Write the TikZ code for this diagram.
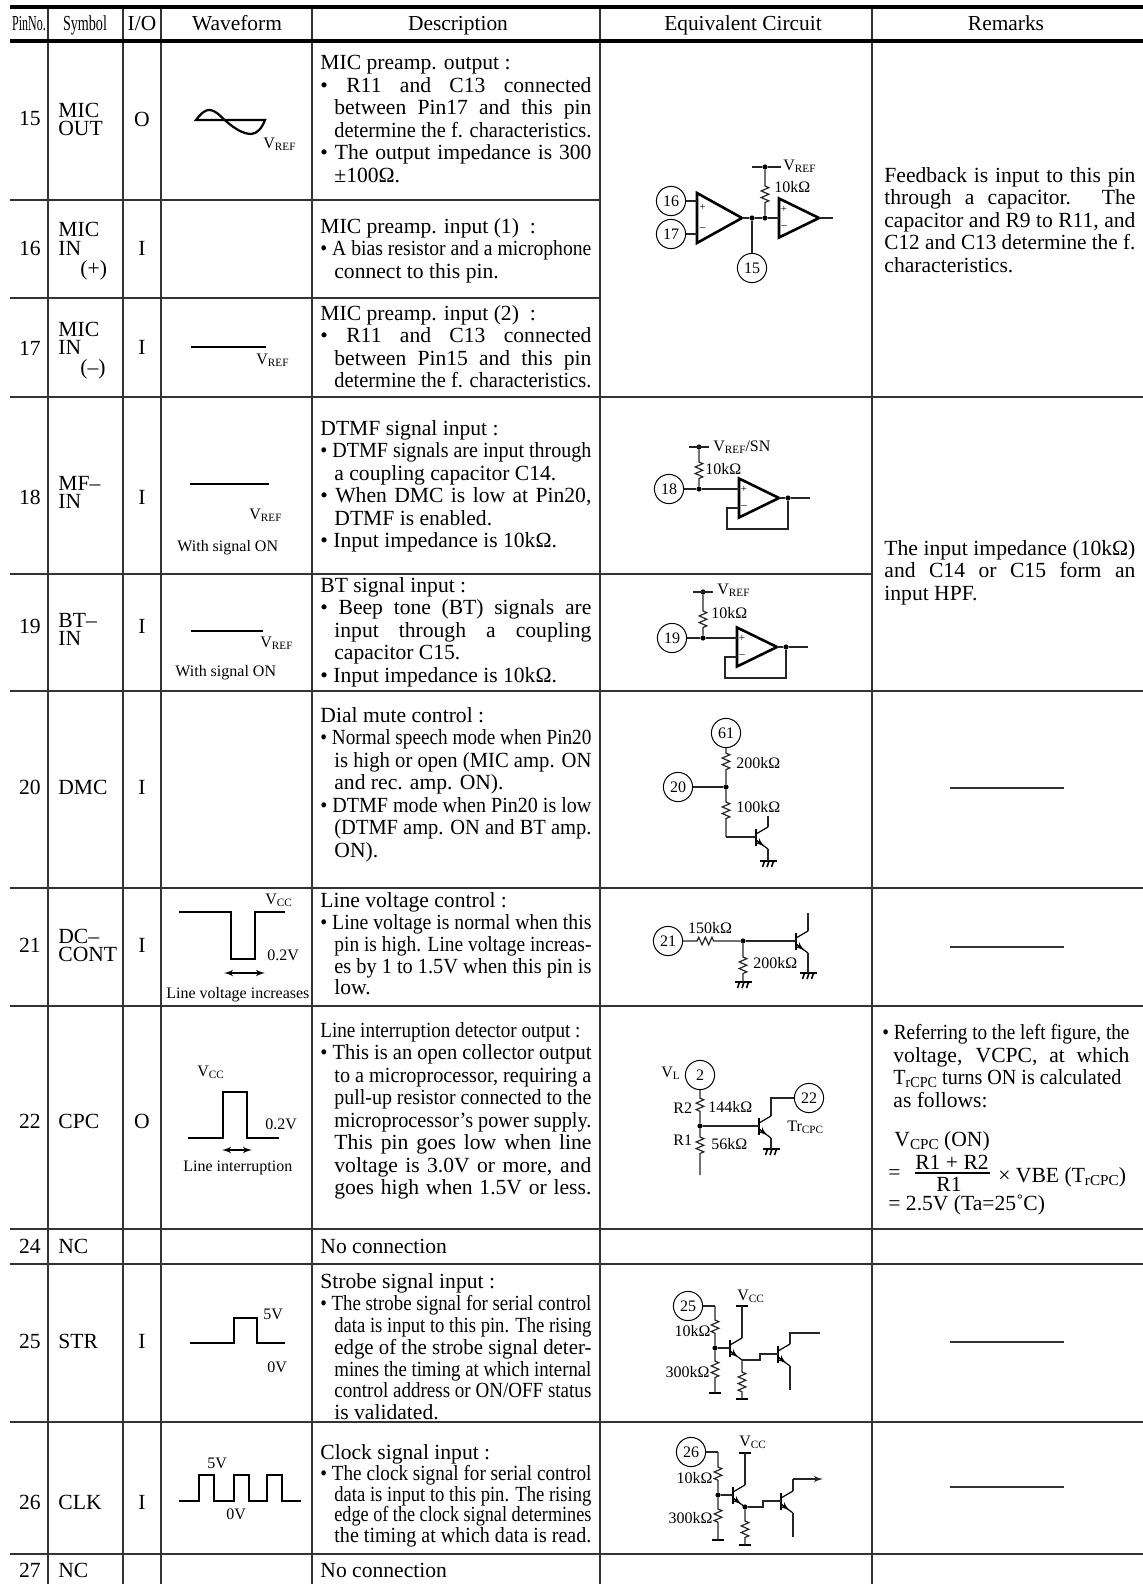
\documentclass[tikz,border=0pt]{standalone}
\usepackage{fontspec}
\setmainfont{Liberation Serif}
\usepackage{graphicx}
\usetikzlibrary{arrows}
\usetikzlibrary{decorations.pathmorphing}
\newcommand{\lowtext}[1]{\raisebox{-.25ex}{\fontsize{5.6}{6}\selectfont #1}}
\newcommand{\lowbig}[1]{\raisebox{-.25ex}{\fontsize{7.6}{8}\selectfont #1}}
\newcommand{\jl}[2]{\setbox0=\hbox{#2}\ifdim\wd0>#1\relax\resizebox{#1}{\height}{\box0}\else\hbox to #1{\unhbox0}\fi}
\newcommand{\jj}[1]{\jl{135.5pt}{#1}}
\newcommand{\jb}[1]{\jl{135.5pt}{•\ #1}}
\newcommand{\ji}[1]{\hspace*{7pt}\jl{128.5pt}{#1}}
\newcommand{\ii}[1]{\hspace*{7pt}#1}
\begin{document}
\begin{tikzpicture}[x=0.5pt, y=-0.5pt]
		\tikzset{rule/.style={line width = 0.7pt, black!80}}
		\tikzset{heavy/.style={line width = 2pt, black}}
		\tikzset{hd/.style={font = \fontsize{10.7}{11}\selectfont, inner sep = 0pt, text height = .66em, text depth = 0pt}}
		\tikzset{pinno/.style={font = \fontsize{10.8}{11}\selectfont, inner sep = 0pt, text height = .66em, text depth = 0pt}}
		\tikzset{sym/.style={font = \fontsize{10.8}{11}\selectfont, inner sep = 0pt, anchor = west, text height = .66em, text depth = 0pt}}
		\tikzset{desc/.style={font = \fontsize{10.8}{11.25}\selectfont, inner sep = 0pt, anchor = north west, align = left}}
		\tikzset{desc tight/.style={desc, font = \fontsize{10.8}{10.4}\selectfont}}
		\tikzset{desc mid/.style={desc, font = \fontsize{10.8}{10.95}\selectfont}}
		\tikzset{lab/.style={font = \fontsize{8}{8}\selectfont, inner sep = 0pt, anchor = west}}
		\tikzset{wave/.style={line width = 1.1pt, black}}
		\tikzset{span/.style={<->, > = latex', line width = 0.6pt}}
		\tikzset{pin/.style={shape = circle, draw, line width = 0.5pt, minimum size = 14.6pt, inner sep = 0pt, font = \fontsize{8}{8}\selectfont}}
		\tikzset{dotn/.style={shape = circle, fill, minimum size = 2.6pt, inner sep = 0pt}}
		\tikzset{wire/.style={draw, line width = 0.6pt, black!85}}
		\tikzset{res it/.style 2 args={decorate,
				decoration={zigzag,
					amplitude = 1.9pt,
					segment length = 3.3pt,
					pre length = #1pt,
					post length = #2pt}}}
		\tikzset{sign/.style={font = \fontsize{5.5}{6}\selectfont, inner sep = 0pt}}
		\tikzset{amp/.pic={
				\draw[line width = 1.3pt, miter limit = 4] (0,-19.5) -- (40,0) -- (0,19.5) -- cycle;
				\coordinate (-l) at (0,0);
				\coordinate (-o) at (40,0);
				\node[sign] (-plus) at (5,-8.5) {+};
				\node[sign] (-minus) at (5,9) {--};}}
		\tikzset{npn/.pic={
				\draw[line width = 1.1pt] (0,-8.5) -- (0,8.5);
				\draw[line width = 0.6pt] (0,-3) -- (12,-10);
				\draw[line width = 0.6pt] (0,3) -- (12,12);
				\draw[-latex', line width = 0.6pt] (0,3) -- (8.5,9.4);
				\coordinate (-b) at (0,0);
				\coordinate (-c) at (12,-10);
				\coordinate (-e) at (12,12);}}
		\tikzset{gnd/.pic={
				\draw[line width = 1.2pt] (-8.5,0) -- (8.5,0);
				\draw[line width = 0.8pt] (-3.5,0) -- (-5.5,6);
				\draw[line width = 0.8pt] (1,0) -- (-1,6);
				\draw[line width = 0.8pt] (5.5,0) -- (3.5,6);
				\coordinate (-t) at (0,0);}}
		\tikzset{bar/.pic={
				\draw[line width = 1.3pt] (-6,0) -- (6,0);
				\coordinate (-t) at (0,0);}}
		\useasboundingbox (0,0) rectangle (1143,1584);
		%rules
		\draw[rule] (48,7) -- (48,1584);
		\draw[rule] (123,7) -- (123,1584);
		\draw[rule] (161,7) -- (161,1584);
		\draw[rule] (312,7) -- (312,1584);
		\draw[rule] (600,7) -- (600,1584);
		\draw[rule] (872,7) -- (872,1584);
		\draw[heavy] (10,7) -- (1143,7);
		\draw[heavy] (10,41) -- (1143,41);
		\draw[rule] (10,200) -- (600,200);
		\draw[rule] (10,298) -- (600,298);
		\draw[rule] (10,397) -- (1143,397);
		\draw[rule] (10,574) -- (872,574);
		\draw[rule] (10,691) -- (1143,691);
		\draw[rule] (10,888) -- (1143,888);
		\draw[rule] (10,1006) -- (1143,1006);
		\draw[rule] (10,1229) -- (1143,1229);
		\draw[rule] (10,1264) -- (1143,1264);
		\draw[rule] (10,1422) -- (1143,1422);
		\draw[rule] (10,1554) -- (1143,1554);
		%header
		\node[hd] (hpin) at (29,24) {\scalebox{.56}[1]{PinNo.}};
		\node[hd] (hsym) at (85,24) {\scalebox{.66}[1]{Symbol}};
		\node[hd] (hio) at (142,24) {I/O};
		\node[hd] (hwave) at (237,24) {Waveform};
		\node[hd] (hdesc) at (458,24) {Description};
		\node[hd] (hcirc) at (743,24) {Equivalent Circuit};
		\node[hd] (hrem) at (1006,24) {Remarks};
		%pin numbers
		\node[pinno] (n15) at (30,119) {15};
		\node[pinno] (n16) at (30,249) {16};
		\node[pinno] (n17) at (30,349) {17};
		\node[pinno] (n18) at (30,498) {18};
		\node[pinno] (n19) at (30,627) {19};
		\node[pinno] (n20) at (30,788) {20};
		\node[pinno] (n21) at (30,946) {21};
		\node[pinno] (n22) at (30,1122) {22};
		\node[pinno] (n24) at (30,1247) {24};
		\node[pinno] (n25) at (30,1342) {25};
		\node[pinno] (n26) at (30,1503) {26};
		\node[pinno] (n27) at (30,1571) {27};
		%symbols
		\node[sym] (s15a) at (58,111) {MIC};
		\node[sym] (s15b) at (58,129) {OUT};
		\node[sym] (s16a) at (58,230) {MIC};
		\node[sym] (s16b) at (58,249) {IN};
		\node[sym] (s16c) at (80,269) {(+)};
		\node[sym] (s17a) at (58,330) {MIC};
		\node[sym] (s17b) at (58,348) {IN};
		\node[sym] (s17c) at (80,368) {(--)};
		\node[sym] (s18a) at (58,484) {MF--};
		\node[sym] (s18b) at (58,502) {IN};
		\node[sym] (s19a) at (58,621) {BT--};
		\node[sym] (s19b) at (58,639) {IN};
		\node[sym] (s20) at (58,788) {DMC};
		\node[sym] (s21a) at (58,937) {DC--};
		\node[sym] (s21b) at (58,955) {CONT};
		\node[sym] (s22) at (58,1122) {CPC};
		\node[sym] (s24) at (58,1247) {NC};
		\node[sym] (s25) at (58,1342) {STR};
		\node[sym] (s26) at (58,1503) {CLK};
		\node[sym] (s27) at (58,1571) {NC};
		%in or out
		\node[pinno] (i15) at (142,120) {O};
		\node[pinno] (i16) at (142,249) {I};
		\node[pinno] (i17) at (142,348) {I};
		\node[pinno] (i18) at (142,498) {I};
		\node[pinno] (i19) at (142,627) {I};
		\node[pinno] (i20) at (142,788) {I};
		\node[pinno] (i21) at (142,946) {I};
		\node[pinno] (i22) at (142,1122) {O};
		\node[pinno] (i25) at (142,1342) {I};
		\node[pinno] (i26) at (142,1503) {I};
		%waveforms
		\draw[wave] (196,120) .. controls (202,112) and (206,110) .. (209,110) .. controls (216,110) and (222,118) .. (227,122) .. controls (234,128) and (243,134) .. (251,134) .. controls (257,134) and (262,128) .. (265,120) -- cycle;
		\node[lab] (w15) at (263,144) {V\lowtext{REF}};
		\draw[wave] (191,347) -- (266,347);
		\node[lab] (w17) at (256,360) {V\lowtext{REF}};
		\draw[wave] (190,484) -- (269,484);
		\node[lab] (w18) at (249,515) {V\lowtext{REF}};
		\node[lab] (w18b) at (177,548) {With signal ON};
		\draw[wave] (191,631) -- (263,631);
		\node[lab] (w19) at (260,643) {V\lowtext{REF}};
		\node[lab] (w19b) at (175,673) {With signal ON};
		\draw[wave] (179,912) -- (231,912) -- (231,959) -- (255,959) -- (255,912) -- (285,912);
		\node[lab] (w21) at (265,900) {V\lowtext{CC}};
		\node[lab] (w21b) at (267,955) {0.2V};
		\coordinate (w21l) at (224,973);
		\coordinate (w21r) at (265,973);
		\draw[span] (w21l) -- (w21r);
		\node[lab] (w21c) at (166,995) {Line voltage increases};
		\draw[wave] (188,1138) -- (223,1138) -- (223,1092) -- (247,1092) -- (247,1138) -- (279,1138);
		\node[lab] (w22) at (197,1072) {V\lowtext{CC}};
		\node[lab] (w22b) at (265,1124) {0.2V};
		\coordinate (w22l) at (222,1150);
		\coordinate (w22r) at (252,1150);
		\draw[span] (w22l) -- (w22r);
		\node[lab] (w22c) at (183,1168) {Line interruption};
		\draw[wave] (190,1343) -- (234,1343) -- (234,1318) -- (257,1318) -- (257,1343) -- (285,1343);
		\node[lab] (w25) at (263,1314) {5V};
		\node[lab] (w25b) at (267,1367) {0V};
		\draw[wave] (179,1501) -- (199,1501) -- (199,1475) -- (214,1475) -- (214,1501) -- (234,1501) -- (234,1475) -- (249,1475) -- (249,1501) -- (267,1501) -- (267,1475) -- (282,1475) -- (282,1501) -- (301,1501);
		\node[lab] (w26) at (207,1463) {5V};
		\node[lab] (w26b) at (226,1514) {0V};
		%descriptions
		\node[desc] (d15) at (320,55) {MIC preamp. output :\\ \jb{R11 and C13 connected}\\ \ji{between Pin17 and this pin}\\ \ji{determine the f. characteristics.}\\ \jb{The output impedance is 300}\\ \ii{±100Ω.}};
		\node[desc] (d16) at (320,218) {MIC preamp. input (1) \ :\\ \jb{A bias resistor and a microphone}\\ \ii{connect to this pin.}};
		\node[desc] (d17) at (320,305) {MIC preamp. input (2) \ :\\ \jb{R11 and C13 connected}\\ \ji{between Pin15 and this pin}\\ \ji{determine the f. characteristics.}};
		\node[desc] (d18) at (320,420) {DTMF signal input :\\ \jb{DTMF signals are input through}\\ \ii{a coupling capacitor C14.}\\ \jb{When DMC is low at Pin20,}\\ \ii{DTMF is enabled.}\\ •\ Input impedance is 10kΩ.};
		\node[desc] (d19) at (320,577) {BT signal input :\\ \jb{Beep tone (BT) signals are}\\ \ji{input through a coupling}\\ \ii{capacitor C15.}\\ •\ Input impedance is 10kΩ.};
		\node[desc] (d20) at (320,707) {Dial mute control :\\ \jb{Normal speech mode when Pin20}\\ \ji{is high or open (MIC amp. ON}\\ \ii{and rec. amp. ON).}\\ \jb{DTMF mode when Pin20 is low}\\ \ji{(DTMF amp. ON and BT amp.}\\ \ii{ON).}};
		\node[desc mid] (d21) at (320,892) {Line voltage control :\\ \jb{Line voltage is normal when this}\\ \ji{pin is high. Line voltage increas-}\\ \ji{es by 1 to 1.5V when this pin is}\\ \ii{low.}};
		\node[desc] (d22) at (320,1022) {\jl{130pt}{Line interruption detector output :}\\ \jb{This is an open collector output}\\ \ji{to a microprocessor, requiring a}\\ \ji{pull-up resistor connected to the}\\ \ji{microprocessor's power supply.}\\ \ji{This pin goes low when line}\\ \ji{voltage is 3.0V or more, and}\\ \ji{goes high when 1.5V or less.}};
		\node[desc] (d24) at (320,1239) {No connection};
		\node[desc mid] (d25) at (320,1273) {Strobe signal input :\\ \jb{The strobe signal for serial control}\\ \ji{data is input to this pin. The rising}\\ \ji{edge of the strobe signal deter-}\\ \ji{mines the timing at which internal}\\ \ji{control address or ON/OFF status}\\ \ii{is validated.}};
		\node[desc tight] (d26) at (320,1444) {Clock signal input :\\ \jb{The clock signal for serial control}\\ \ji{data is input to this pin. The rising}\\ \ji{edge of the clock signal determines}\\ \ji{the timing at which data is read.}};
		\node[desc] (d27) at (320,1563) {No connection};
		%remarks
		\node[desc] (r15) at (884,167) {\jl{125.5pt}{Feedback is input to this pin}\\ \jl{125.5pt}{through a capacitor. The}\\ \jl{125.5pt}{capacitor and R9 to R11, and}\\ \jl{125.5pt}{C12 and C13 determine the f.}\\ characteristics.};
		\node[desc] (r18) at (884,540) {\jl{125.5pt}{The input impedance (10kΩ)}\\ \jl{125.5pt}{and C14 or C15 form an}\\ input HPF.};
		\node[desc] (r22) at (882,1024) {\jl{123.5pt}{•\ Referring to the left figure, the}\\ \hspace*{5.5pt}\jl{118pt}{voltage, VCPC, at which}\\ \hspace*{5.5pt}\jl{114pt}{T\lowbig{rCPC} turns ON is calculated}\\ \hspace*{5.5pt}as follows:};
		\node[sym] (r22a) at (894,1140) {V\lowbig{CPC} (ON)};
		\node[sym] (r22b) at (888,1173) {=};
		\node[pinno] (r22c) at (952,1163) {R1 + R2};
		\node[pinno] (r22d) at (949,1185) {R1};
		\coordinate (r22l) at (915,1173);
		\coordinate (r22r) at (990,1173);
		\draw[line width = 0.7pt] (r22l) -- (r22r);
		\node[sym] (r22e) at (998,1176) {× VBE (T\lowbig{rCPC})};
		\node[sym] (r22f) at (888,1204) {= 2.5V (Ta=25˚C)};
		\draw[rule] (950,788) -- (1064,788);
		\draw[rule] (950,947) -- (1064,947);
		\draw[rule] (950,1342) -- (1064,1342);
		\draw[rule] (950,1487) -- (1064,1487);
		%circuit 15 to 17
		\node[pin] (c16) at (671,201) {16};
		\node[pin] (c17) at (671,234) {17};
		\node[pin] (c15) at (752,268) {15};
		\pic[xscale = 1.125, yscale = 1.28] (a1) at (697,218) {amp};
		\pic (a2) at (779,218) {amp};
		\node[dotn] (j1) at (752,218) {};
		\node[dotn] (j2) at (765,218) {};
		\node[dotn] (j3) at (765,167) {};
		\coordinate (v1l) at (752,167);
		\coordinate (v1r) at (781,167);
		\coordinate (o1) at (833,218);
		\node[lab] (t1) at (783,166) {V\lowtext{REF}};
		\node[lab] (t2) at (774,187) {10kΩ};
		\draw[wire] (c16) -- (c16 -| a1-l);
		\draw[wire] (c17) -- (c17 -| a1-l);
		\draw[wire] (a1-o) -- (j1) -- (j2) -- (a2-l);
		\draw[wire] (a2-o) -- (o1);
		\draw[wire] (j1) -- (c15);
		\draw[wire] (v1l) -- (j3) -- (v1r);
		\path[wire] (j3) edge[res it = {8}{6}] (j2);
		%circuit 18
		\node[pin] (c18) at (669,489) {18};
		\pic (a3) at (739,498) {amp};
		\node[dotn] (j4) at (699,447) {};
		\node[dotn] (j5) at (699,489) {};
		\node[dotn] (j6) at (788,498) {};
		\coordinate (v2l) at (689,447);
		\coordinate (v2r) at (709,447);
		\coordinate (o2) at (810,498);
		\coordinate (f2a) at (788,529);
		\coordinate (f2b) at (727,529);
		\coordinate (f2c) at (727,508);
		\coordinate (f2d) at (739,508);
		\node[lab] (t3) at (713,447) {V\lowtext{REF}/SN};
		\node[lab] (t4) at (705,469) {10kΩ};
		\draw[wire] (v2l) -- (v2r);
		\draw[wire] (c18) -- (j5) -- (j5 -| a3-l);
		\draw[wire] (a3-o) -- (j6) -- (o2);
		\draw[wire] (j6) -- (f2a) -- (f2b) -- (f2c) -- (f2d);
		\path[wire] (j4) edge[res it = {6}{3}] (j5);
		%circuit 19
		\node[pin] (c19) at (672,638) {19};
		\pic (a4) at (737,647) {amp};
		\node[dotn] (j7) at (703,592) {};
		\node[dotn] (j8) at (703,638) {};
		\node[dotn] (j9) at (786,647) {};
		\coordinate (v3l) at (693,592);
		\coordinate (v3r) at (713,592);
		\coordinate (o3) at (808,647);
		\coordinate (f3a) at (786,678);
		\coordinate (f3b) at (725,678);
		\coordinate (f3c) at (725,657);
		\coordinate (f3d) at (737,657);
		\node[lab] (t5) at (717,590) {V\lowtext{REF}};
		\node[lab] (t6) at (711,613) {10kΩ};
		\draw[wire] (v3l) -- (v3r);
		\draw[wire] (c19) -- (j8) -- (j8 -| a4-l);
		\draw[wire] (a4-o) -- (j9) -- (o3);
		\draw[wire] (j9) -- (f3a) -- (f3b) -- (f3c) -- (f3d);
		\path[wire] (j7) edge[res it = {8}{3}] (j8);
		%circuit 20
		\node[pin] (c61) at (726,733) {61};
		\node[pin] (c20) at (678,787) {20};
		\node[dotn] (j10) at (726,787) {};
		\coordinate (k1) at (726,837);
		\pic (q1) at (756,837) {npn};
		\pic (g1) at (768,861) {gnd};
		\coordinate (k2) at (768,816);
		\node[lab] (t7) at (736,763) {200kΩ};
		\node[lab] (t8) at (736,807) {100kΩ};
		\draw[wire] (c20) -- (j10);
		\path[wire] (c61) edge[res it = {2.5}{6}] (j10);
		\path[wire] (j10) edge[res it = {6}{8.5}] (k1);
		\draw[wire] (k1) -- (q1-b);
		\draw[wire] (q1-c) -- (k2);
		\draw[wire] (q1-e) -- (g1-t);
		%circuit 21
		\node[pin] (c21) at (668,941) {21};
		\node[dotn] (j11) at (743,941) {};
		\pic (g2) at (743,982) {gnd};
		\pic (q2) at (796,941) {npn};
		\pic (g3) at (808,973) {gnd};
		\coordinate (k3) at (808,913);
		\node[lab, anchor = center] (t9) at (710,928) {150kΩ};
		\node[lab] (t10) at (753,963) {200kΩ};
		\path[wire] (c21) edge[res it = {7}{13}] (j11);
		\path[wire] (j11) edge[res it = {6.5}{3.5}] (g2-t);
		\draw[wire] (j11) -- (q2-b);
		\draw[wire] (q2-c) -- (k3);
		\draw[wire] (q2-e) -- (g3-t);
		%circuit 22
		\node[pin] (c2) at (700,1075) {2};
		\node[pin] (c22) at (809,1098) {22};
		\node[dotn] (j12) at (700,1126) {};
		\coordinate (k4) at (700,1175);
		\pic (q3) at (759,1126) {npn};
		\pic (g4) at (771,1149) {gnd};
		\coordinate (k5) at (771,1098);
		\node[lab] (t11) at (661,1073) {V\lowtext{L}};
		\node[lab] (t12) at (673,1108) {R2};
		\node[lab] (t13) at (708,1107) {144kΩ};
		\node[lab] (t14) at (673,1140) {R1};
		\node[lab] (t15) at (711,1144) {56kΩ};
		\node[lab] (t16) at (787,1127) {Tr\lowtext{CPC}};
		\path[wire] (c2) edge[res it = {4}{4.5}] (j12);
		\path[wire] (j12) edge[res it = {4}{10}] (k4);
		\draw[wire] (j12) -- (q3-b);
		\draw[wire] (q3-c) -- (k5) -- (c22);
		\draw[wire] (q3-e) -- (g4-t);
		%circuit 25
		\node[pin] (c25) at (688,1306) {25};
		\coordinate (k6) at (715,1306);
		\node[dotn] (j13) at (715,1348) {};
		\pic (b1) at (715,1393) {bar};
		\pic (q4) at (730,1348) {npn};
		\pic (b2) at (742,1306) {bar};
		\pic (b3) at (742,1399) {bar};
		\coordinate (k7) at (760,1360);
		\coordinate (k8) at (760,1354);
		\pic (q5) at (778,1354) {npn};
		\coordinate (k9) at (790,1333);
		\coordinate (k10) at (820,1333);
		\coordinate (k11) at (790,1390);
		\node[lab, anchor = east] (t17) at (711,1331) {10kΩ};
		\node[lab, anchor = east] (t18) at (710,1372) {300kΩ};
		\node[lab] (t19) at (737,1296) {V\lowtext{CC}};
		\draw[wire] (c25) -- (k6);
		\path[wire] (k6) edge[res it = {7}{4.5}] (j13);
		\path[wire] (j13) edge[res it = {5}{7.5}] (b1-t);
		\draw[wire] (j13) -- (q4-b);
		\draw[wire] (q4-c) -- (b2-t);
		\path[wire] (q4-e) edge[res it = {6}{3.5}] (b3-t);
		\draw[wire] (q4-e) -- (k7) -- (k8) -- (q5-b);
		\draw[wire] (q5-c) -- (k9) -- (k10);
		\draw[wire] (q5-e) -- (k11);
		%circuit 26
		\node[pin] (c26) at (691,1452) {26};
		\coordinate (k12) at (718,1452);
		\node[dotn] (j14) at (718,1495) {};
		\pic (b4) at (718,1540) {bar};
		\pic (q6) at (733,1495) {npn};
		\pic (b5) at (745,1453) {bar};
		\node[dotn] (j15) at (745,1507) {};
		\pic (b6) at (745,1545) {bar};
		\coordinate (k13) at (763,1507);
		\coordinate (k14) at (763,1501);
		\pic (q7) at (781,1501) {npn};
		\coordinate (k15) at (793,1479);
		\coordinate (k16) at (823,1479);
		\coordinate (k17) at (793,1537);
		\node[lab, anchor = east] (t20) at (713,1478) {10kΩ};
		\node[lab, anchor = east] (t21) at (713,1518) {300kΩ};
		\node[lab] (t22) at (739,1442) {V\lowtext{CC}};
		\draw[wire] (c26) -- (k12);
		\path[wire] (k12) edge[res it = {7.5}{5}] (j14);
		\path[wire] (j14) edge[res it = {5.5}{7.5}] (b4-t);
		\draw[wire] (j14) -- (q6-b);
		\draw[wire] (q6-c) -- (b5-t);
		\path[wire] (j15) edge[res it = {5.5}{3.5}] (b6-t);
		\draw[wire] (q6-e) -- (j15) -- (k13) -- (k14) -- (q7-b);
		\draw[wire] (q7-c) -- (k15);
		\draw[wire, -latex'] (k15) -- (k16);
		\draw[wire] (q7-e) -- (k17);
\end{tikzpicture}
\end{document}
